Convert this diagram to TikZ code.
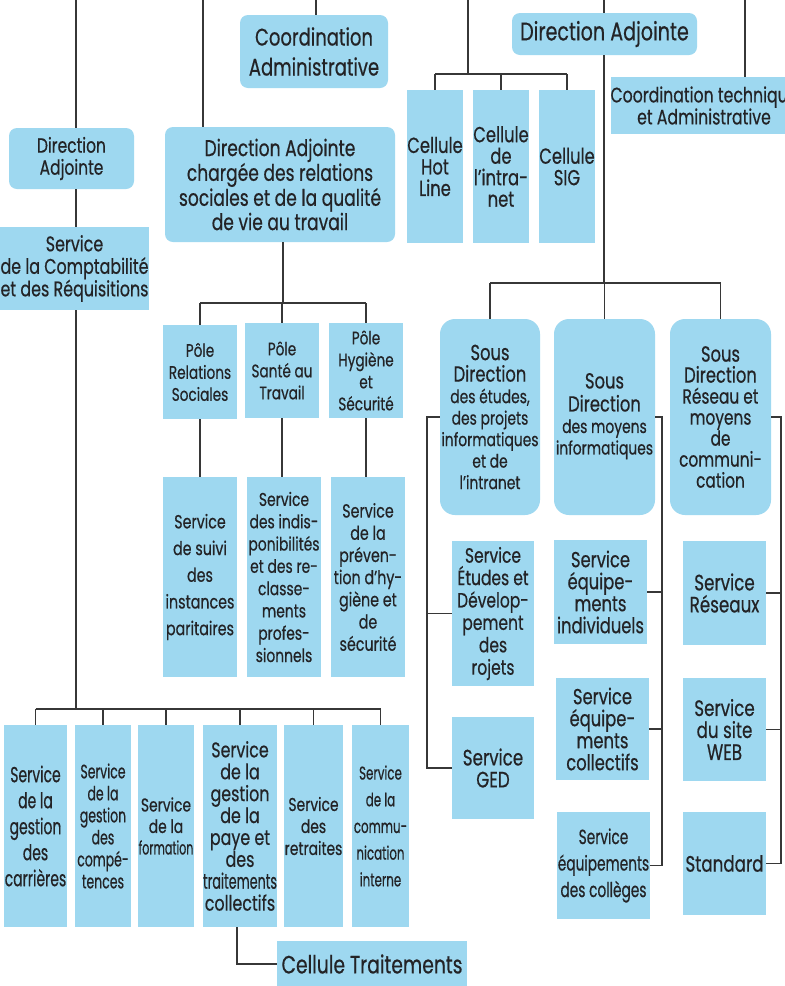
\documentclass[tikz,border=0pt]{standalone}
\usepackage{fontspec}
\setmainfont{Poppins}[FakeStretch=0.75,FakeBold=0.5]
\newfontfamily\narrowf{Poppins}[FakeStretch=0.6,FakeBold=0.5]
\newfontfamily\condA{Poppins}[FakeStretch=0.64,FakeBold=0.5]
\newfontfamily\condB{Poppins}[FakeStretch=0.67,FakeBold=0.5]
\newcommand\fsz[2]{\fontsize{#1}{#2}\selectfont}
\definecolor{boxblue}{RGB}{158,216,240}
\definecolor{txtcol}{RGB}{35,35,38}
\definecolor{lncol}{RGB}{55,55,55}
\tikzset{
  box/.style={fill=boxblue, inner sep=0pt, align=center, text=txtcol},
  rbox/.style={box, rounded corners=8pt},
  ln/.style={draw=lncol, line width=1.1pt},
}
\begin{document}
\begin{tikzpicture}[x=1pt,y=-1pt]
\useasboundingbox (0,0) rectangle (785,986);
\fill[white] (0,0) rectangle (785,986);
\clip (0,0) rectangle (785,986);

% ---- top level boxes
\node[rbox, minimum width=125pt, minimum height=61pt, font=\fsz{20.7}{22}] (daL) at (71.5,158.5) {Direction\\Adjointe};
\node[box, minimum width=149pt, minimum height=83pt, font=\fsz{21.2}{22.5}] (compta) at (74.5,268.5) {Service\\de la Comptabilité\\et des Réquisitions};
\node[rbox, minimum width=230pt, minimum height=115pt, font=\fsz{22.8}{21.7}] (dac) at (280,184.5) {Direction Adjointe\\chargée des relations\\sociales et de la qualité\\de vie au travail};
\node[rbox, minimum width=148pt, minimum height=73pt, font=\fsz{24}{30}] (coordA) at (314,51.5) {Coordination\\Administrative};
\node[rbox, minimum width=185pt, minimum height=42pt, font=\fsz{25.5}{26}] (daR) at (604.5,34) {Direction Adjointe};
\node[box, minimum width=56pt, minimum height=153pt, font=\fsz{21.8}{21.5}] (cHot) at (435,166.5) {Cellule\\Hot\\Line};
\node[box, minimum width=56pt, minimum height=153pt, font=\fsz{21.8}{21.5}] (cIntra) at (501,166.5) {Cellule\\de\\l’intra-\\net};
\node[box, minimum width=56pt, minimum height=153pt, font=\fsz{21.8}{21.5}] (cSIG) at (567,166.5) {Cellule\\SIG};
\node[box, minimum width=180pt, minimum height=57pt, font=\fsz{21}{22}] (coordT) at (704,105.5) {Coordination technique\\et Administrative};

% ---- sous directions
\node[rbox, rounded corners=15pt, minimum width=100pt, minimum height=196pt, font=\fsz{18.5}{21.5}] (SD1) at (490,417)
  {\fsz{21.8}{22}Sous\\\fsz{21.8}{22}Direction\\des études,\\des projets\\informatiques\\et de\\l’intranet};
\node[rbox, rounded corners=15pt, minimum width=101pt, minimum height=196pt, font=\fsz{18.5}{21.5}] (SD2) at (604.5,417)
  {\raisebox{8pt}{\begin{tabular}{@{}c@{}}\fsz{21.8}{22}Sous\\\fsz{21.8}{22}Direction\\des moyens\\informatiques\end{tabular}}};
\node[rbox, rounded corners=15pt, minimum width=101pt, minimum height=196pt, font=\fsz{20.5}{21}] (SD3) at (720.5,417)
  {\fsz{21.8}{22}Sous\\\fsz{21.8}{22}Direction\\Réseau et\\moyens\\de\\communi-\\cation};

\node[box, minimum width=82pt, minimum height=145pt, font=\fsz{20.7}{22.4}] (sEtud) at (493,613.5) {Service\\Études et\\Dévelop-\\pement\\des\\rojets};
\node[box, minimum width=82pt, minimum height=102pt, font=\fsz{22.3}{22}] (sGED) at (493,768) {Service\\GED};
\node[box, minimum width=93pt, minimum height=104pt, font=\fsz{21.8}{22}] (sInd) at (600.5,592) {Service\\équipe-\\ments\\individuels};
\node[box, minimum width=93pt, minimum height=102pt, font=\fsz{21.8}{22}] (sCol) at (602.5,729) {Service\\équipe-\\ments\\collectifs};
\node[box, minimum width=93pt, minimum height=107pt, font=\condB\fsz{20.5}{26.5}] (sColl) at (603.5,865.5) {Service\\équipements\\des collèges};
\node[box, minimum width=83pt, minimum height=104pt, font=\fsz{22.3}{22}] (sRes) at (724.5,593) {Service\\Réseaux};
\node[box, minimum width=83pt, minimum height=103pt, font=\fsz{22.3}{22}] (sWeb) at (724.5,729.5) {Service\\du site\\WEB};
\node[box, minimum width=83pt, minimum height=103pt, font=\fsz{22.3}{22}] (sStd) at (724.5,863.5) {Standard};

% ---- poles
\node[box, minimum width=74pt, minimum height=94pt, font=\fsz{18.2}{22}] (pRS) at (200,372) {Pôle\\Relations\\Sociales};
\node[box, minimum width=74pt, minimum height=95pt, font=\fsz{18.2}{22}] (pST) at (282,370.5) {Pôle\\Santé au\\Travail};
\node[box, minimum width=74pt, minimum height=95pt, font=\fsz{18.2}{22}] (pHS) at (366,370.5) {Pôle\\Hygiène\\et\\Sécurité};
\node[box, minimum width=74pt, minimum height=200pt, font=\fsz{19}{26.7}] (sSuivi) at (200,577) {Service\\de suivi\\des\\instances\\paritaires};
\node[box, minimum width=74pt, minimum height=200pt, font=\fsz{18.5}{22.3}] (sIndispo) at (284,577) {Service\\des indis-\\ponibilités\\et des re-\\classe-\\ments\\profes-\\sionnels};
\node[box, minimum width=74pt, minimum height=200pt, font=\fsz{19}{22.2}] (sPrev) at (368,577) {Service\\de la\\préven-\\tion d’hy-\\giène et\\de\\sécurité};

% ---- bottom row
\node[box, minimum width=63pt, minimum height=202pt, font=\condA\fsz{21.8}{26}] (b1) at (35.5,826) {Service\\de la\\gestion\\des\\carrières};
\node[box, minimum width=56pt, minimum height=202pt, font=\condA\fsz{19.5}{22}] (b2) at (103,826) {Service\\de la\\gestion\\des\\compé-\\tences};
\node[box, minimum width=56pt, minimum height=202pt, font=\fsz{18.5}{21.5}] (b3) at (166,826) {Service\\de la\\\narrowf formation};
\node[box, minimum width=74pt, minimum height=202pt, font=\fsz{21.2}{21.9}] (b4) at (240,826) {Service\\de la\\gestion\\de la\\paye et\\des\\\narrowf traitements\\collectifs};
\node[box, minimum width=59pt, minimum height=202pt, font=\fsz{18.5}{22}] (b5) at (313.5,826) {Service\\des\\retraites};
\node[box, minimum width=57pt, minimum height=202pt, font=\condA\fsz{18.5}{26.7}] (b6) at (380.5,826) {Service\\de la\\commu-\\nication\\interne};
\node[box, minimum width=190pt, minimum height=46pt, font=\fsz{25}{26}] (cTrait) at (372,964) {Cellule Traitements};

% ---- connectors
\coordinate (tL) at (76,0);
\coordinate (busB) at (76,709);
\draw[ln] (tL) -- (tL |- daL.north);
\draw[ln] (tL |- daL.south) -- (tL |- compta.north);
\draw[ln] (tL |- compta.south) -- (busB);
\draw[ln] (b1.north |- busB) -- (b6.north |- busB);
\foreach \n in {b1,b2,b3,b4,b5,b6} \draw[ln] (\n.north |- busB) -- (\n.north);
\coordinate (c4) at (237,964);
\draw[ln] (c4 |- b4.south) -- (c4) -- (cTrait.west);

\coordinate (t2) at (203,0);
\draw[ln] (t2) -- (t2 |- dac.north);
\coordinate (t3) at (316,0);
\draw[ln] (t3) -- (t3 |- coordA.north);

\coordinate (busP) at (283,303);
\draw[ln] (busP |- dac.south) -- (busP);
\draw[ln] (pRS.north |- busP) -- (pHS.north |- busP);
\foreach \n in {pRS,pST,pHS} \draw[ln] (\n.north |- busP) -- (\n.north);
\draw[ln] (pRS.south) -- (pRS.south |- sSuivi.north);
\draw[ln] (pST.south) -- (pST.south |- sIndispo.north);
\draw[ln] (pHS.south) -- (pHS.south |- sPrev.north);

\coordinate (t4) at (468,0);
\coordinate (busC) at (468,74);
\draw[ln] (t4) -- (busC);
\draw[ln] (cHot.north |- busC) -- (cSIG.north |- busC);
\foreach \n in {cHot,cIntra,cSIG} \draw[ln] (\n.north |- busC) -- (\n.north);

\coordinate (t5) at (604,0);
\coordinate (busS) at (604,283);
\draw[ln] (t5) -- (t5 |- daR.north);
\draw[ln] (t5 |- daR.south) -- (busS);
\draw[ln] (SD1.north |- busS) -- (SD3.north |- busS);
\foreach \n in {SD1,SD2,SD3} \draw[ln] (\n.north |- busS) -- (\n.north);

\coordinate (t6) at (745,0);
\draw[ln] (t6) -- (t6 |- coordT.north);

\coordinate (v1) at (427,416);
\draw[ln] (SD1.west) -- (SD1.west -| v1) -- (v1 |- sGED.west) -- (sGED.west);
\draw[ln] (sEtud.west) -- (sEtud.west -| v1);
\coordinate (v2) at (662,422);
\draw[ln] (SD2.east) -- (SD2.east -| v2) -- (v2 |- sColl.east) -- (sColl.east);
\draw[ln] (sInd.east) -- (sInd.east -| v2);
\draw[ln] (sCol.east) -- (sCol.east -| v2);
\coordinate (v3) at (781,422);
\draw[ln] (SD3.east) -- (SD3.east -| v3) -- (v3 |- sStd.east) -- (sStd.east);
\draw[ln] (sRes.east) -- (sRes.east -| v3);
\draw[ln] (sWeb.east) -- (sWeb.east -| v3);
\end{tikzpicture}
\end{document}
